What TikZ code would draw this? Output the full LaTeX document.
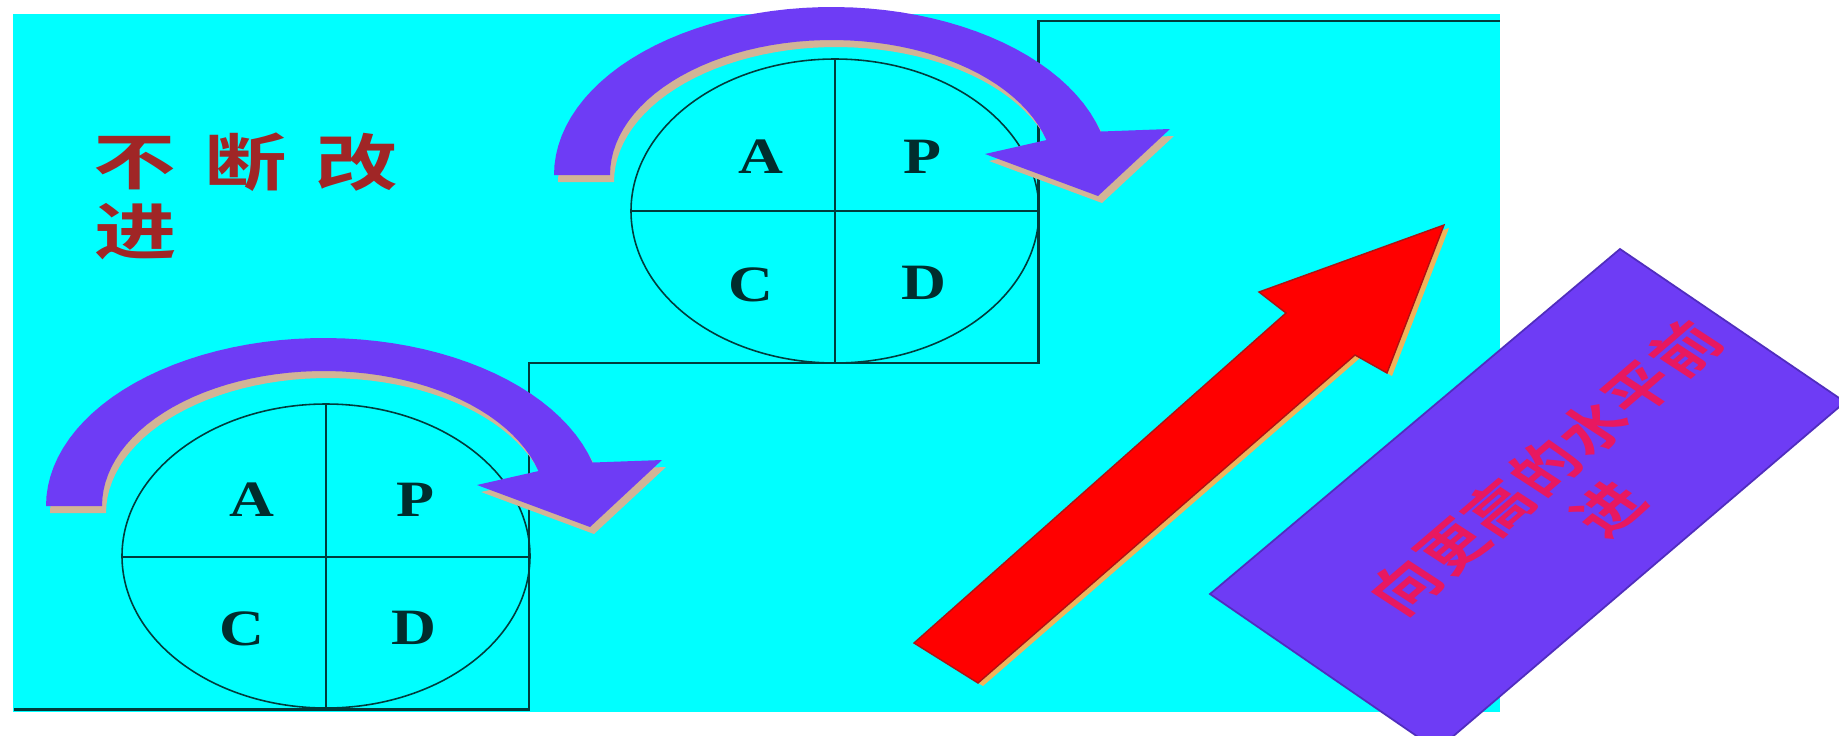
\documentclass[tikz,border=0pt]{standalone}
\usepackage{fontspec}
\setmainfont{Liberation Serif}
\newfontfamily\cjk[BoldFont={Noto Sans CJK SC Bold}]{Noto Sans CJK SC}
\newfontfamily\cjkwide[LetterSpace=3.5,BoldFont={Noto Sans CJK SC Bold}]{Noto Sans CJK SC}
\newcommand\stretchx[2][1.34]{\scalebox{#1}[1]{#2}}
\definecolor{bgcyan}{RGB}{0,255,255}
\definecolor{linecol}{RGB}{0,60,60}
\definecolor{lettercol}{RGB}{0,45,45}
\definecolor{purp}{RGB}{110,60,245}
\definecolor{purpedge}{RGB}{80,45,190}
\definecolor{shadowtan}{RGB}{210,180,150}
\definecolor{arrowred}{RGB}{255,0,0}
\definecolor{arrowredge}{RGB}{170,20,20}
\definecolor{redshadow}{RGB}{240,180,90}
\definecolor{titlered}{RGB}{160,38,38}
\definecolor{textpink}{RGB}{232,24,96}
\begin{document}
\begin{tikzpicture}[x=0.1mm,y=-0.1mm,
  stepline/.style={draw=linecol,line width=0.85pt},
  divline/.style={draw=linecol,line width=0.75pt},
  ringline/.style={draw=linecol,line width=0.45pt},
  pdca/.style={font=\fontsize{14.5pt}{14.5pt}\selectfont\bfseries,text=lettercol,inner sep=0pt},
  titlechar/.style={font=\cjk\fontsize{17.5pt}{17.5pt}\selectfont\bfseries,text=titlered,inner sep=0pt},
  banner/.style={font=\cjkwide\fontsize{14.5pt}{17.9pt}\selectfont\bfseries,text=textpink,inner sep=0pt,align=center},
  cyclearrow/.pic={
    \path[pic actions] plot[domain=180:345,samples=50] ({278*cos(\x)},{168*sin(\x)})
      -- (338,-46) -- (266,21) -- (153,-21)
      -- plot[domain=345:180,samples=50] ({222*cos(\x)},{135*sin(\x)}) -- cycle;
  },
  risearrow/.pic={
    \path[pic actions] (914,643) -- (1286,313) -- (1259,292) -- (1444,225)
      -- (1387,373) -- (1355,355) -- (978,683) -- cycle;
  }
]
\useasboundingbox (0,0) rectangle (1839,735);
\clip (0,0) rectangle (1839,735);
\fill[white] (0,0) rectangle (1839,735);
% background
\fill[bgcyan] (13,14) rectangle (1500,712);
% staircase outline
\draw[stepline] (14,709) -- (529,709) -- (529,363) -- (1038,363) -- (1038,21) -- (1500,21);
% lower PDCA ring
\draw[ringline] (326,556) ellipse [x radius=204,y radius=152];
\draw[divline] (121,557) -- (529,557);
\draw[divline] (326,403) -- (326,709);
% upper PDCA ring
\draw[ringline] (835,211) ellipse [x radius=204,y radius=152];
\draw[divline] (631,211) -- (1038,211);
\draw[divline] (835,58) -- (835,363);
% letters
\node[pdca] (lA) at (252,500) {\stretchx[1.22]{A}};
\node[pdca] (lP) at (415,500) {\stretchx[1.22]{P}};
\node[pdca] (lC) at (242,629) {\stretchx[1.22]{C}};
\node[pdca] (lD) at (414,628) {\stretchx[1.22]{D}};
\node[pdca] (uA) at (761,157) {\stretchx[1.22]{A}};
\node[pdca] (uP) at (922,157) {\stretchx[1.22]{P}};
\node[pdca] (uC) at (751,285) {\stretchx[1.22]{C}};
\node[pdca] (uD) at (924,283) {\stretchx[1.22]{D}};
% title
\node[titlechar] (t1) at (135,163) {\stretchx{不}};
\node[titlechar] (t2) at (246,162) {\stretchx{断}};
\node[titlechar] (t3) at (357,162) {\stretchx{改}};
\node[titlechar] (t4) at (136,232) {\stretchx{进}};
% curved cycle arrows
\pic[fill=shadowtan] at (328,513) {cyclearrow};
\pic[fill=purp] at (324,506) {cyclearrow};
\pic[fill=shadowtan] at (836,182) {cyclearrow};
\pic[fill=purp] at (832,175) {cyclearrow};
% rising red arrow
\pic[fill=redshadow] at (5,3) {risearrow};
\pic[fill=arrowred,draw=arrowredge,line width=0.4pt] at (0,0) {risearrow};
% banner
\fill[purp,draw=purpedge,line width=0.5pt] (1620,249) -- (1845,402) -- (1437,750) -- (1210,594) -- cycle;
\begin{scope}[shift={(1577,488)},xscale=1.34]
  \node[banner,transform shape,rotate=48.8] (banner) at (0,0) {向更高的水平前\\进};
\end{scope}
\end{tikzpicture}
\end{document}
